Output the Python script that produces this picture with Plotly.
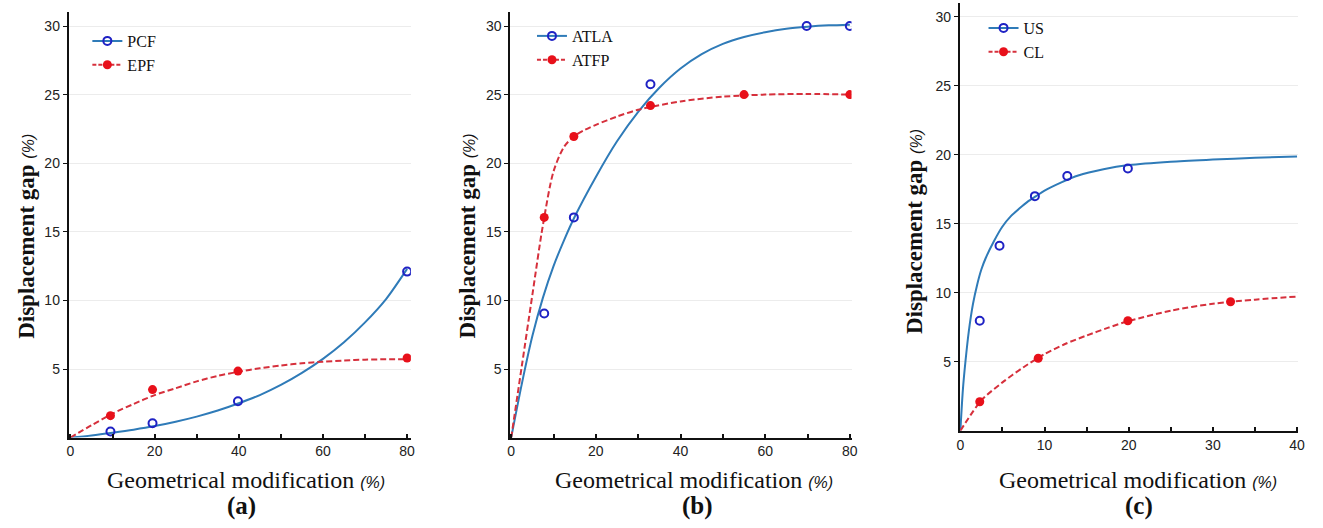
import plotly.graph_objects as go

W, H = 1323, 528

# ---------------- data ----------------
# Panel (a)
a_pts_x = [9.5, 19.5, 39.8, 80]
pcf_y = [0.45, 1.05, 2.65, 12.1]
epf_y = [1.6, 3.5, 4.85, 5.8]
a_fit_x = [0, 5, 10, 15, 20, 25, 30, 35, 40, 45, 50, 55, 60, 65, 70, 75, 80]
pcf_fit = [0, 0.16, 0.36, 0.58, 0.84, 1.16, 1.53, 1.97, 2.5, 3.1, 3.84, 4.72, 5.74, 6.95, 8.4, 10.1, 12.3]
epf_fit = [0, 0.9, 1.75, 2.45, 3.1, 3.6, 4.1, 4.5, 4.8, 5.05, 5.25, 5.42, 5.53, 5.62, 5.68, 5.71, 5.72]

# Panel (b)
atla_x = [7.8, 14.8, 32.9, 69.8, 80]
atla_y = [9.05, 16.05, 25.75, 30.0, 30.0]
atfp_x = [7.8, 14.8, 32.9, 55, 80]
atfp_y = [16.05, 21.95, 24.2, 25.0, 25.0]
atla_fit_x = [0, 2.5, 5, 7.5, 10, 12.5, 15, 20, 25, 30, 35, 40, 45, 50, 55, 60, 65, 70, 75, 80]
atla_fit = [0, 3.9, 7.4, 10.2, 12.5, 14.4, 16.1, 19.0, 21.6, 23.75, 25.5, 26.9, 27.95, 28.7, 29.2, 29.55, 29.8, 29.95, 30.05, 30.1]
atfp_fit_x = [0, 2.5, 5, 7.5, 10, 12.5, 15, 17.5, 20, 25, 30, 40, 50, 60, 70, 80]
atfp_fit = [0, 5.2, 10.4, 15.5, 19.4, 21.2, 22.0, 22.45, 22.8, 23.4, 23.9, 24.5, 24.85, 25.0, 25.05, 25.0]

# Panel (c)
us_x = [2.3, 4.65, 8.85, 12.7, 19.9]
us_y = [7.97, 13.4, 17.0, 18.46, 19.0]
cl_x = [2.3, 9.25, 19.9, 32.1]
cl_y = [2.1, 5.25, 7.97, 9.35]
us_fit_x = [0, 0.3, 0.6, 1, 1.5, 2, 2.5, 3, 4, 5, 6, 7, 8, 9, 10, 12, 14, 17, 20, 25, 30, 35, 40]
us_fit = [0, 3, 5, 7.2, 9.2, 10.6, 11.7, 12.5, 13.75, 14.8, 15.55, 16.1, 16.6, 17.0, 17.4, 18.0, 18.5, 18.95, 19.25, 19.5, 19.65, 19.78, 19.88]
cl_fit_x = [0, 2.5, 5, 7.5, 10, 12.5, 15, 17.5, 20, 25, 30, 35, 40]
cl_fit = [0, 2.2, 3.5, 4.6, 5.55, 6.3, 6.9, 7.45, 7.95, 8.7, 9.2, 9.5, 9.72]

y_ticks = [5, 10, 15, 20, 25, 30]
ab_xticks = [0, 10, 20, 30, 40, 50, 60, 70, 80]
ab_xtext = ["0", "", "20", "", "40", "", "60", "", "80"]
c_xticks = [0, 5, 10, 15, 20, 25, 30, 35, 40]
c_xtext = ["0", "", "10", "", "20", "", "30", "", "40"]

legend_names = [("PCF", "EPF"), ("ATLA", "ATFP"), ("US", "CL")]
panel_labels = ["(a)", "(b)", "(c)"]

# ---------------- styles ----------------
BLUE_LINE = "#2f7bb8"
BLUE_MK = "#1f22c4"
RED_LINE = "#d6303c"
RED_MK = "#e8101a"
SERIF = "Liberation Serif, Times New Roman, serif"
SANS = "Liberation Sans, Arial, sans-serif"

fig = go.Figure()

panels = [
    dict(fx=a_fit_x, f1=pcf_fit, fx2=a_fit_x, f2=epf_fit, px1=a_pts_x, p1=pcf_y, px2=a_pts_x, p2=epf_y),
    dict(fx=atla_fit_x, f1=atla_fit, fx2=atfp_fit_x, f2=atfp_fit, px1=atla_x, p1=atla_y, px2=atfp_x, p2=atfp_y),
    dict(fx=us_fit_x, f1=us_fit, fx2=cl_fit_x, f2=cl_fit, px1=us_x, p1=us_y, px2=cl_x, p2=cl_y),
]
legend_ids = ["legend", "legend2", "legend3"]

for i, p in enumerate(panels):
    xa = "x" if i == 0 else f"x{i+1}"
    ya = "y" if i == 0 else f"y{i+1}"
    fig.add_trace(go.Scatter(x=p["fx"], y=p["f1"], mode="lines", line=dict(color=BLUE_LINE, width=2, shape="spline", smoothing=0.8),
                             xaxis=xa, yaxis=ya, showlegend=False, hoverinfo="skip"))
    fig.add_trace(go.Scatter(x=p["fx2"], y=p["f2"], mode="lines", line=dict(color=RED_LINE, width=2, dash="6px,3px", shape="spline", smoothing=0.8),
                             xaxis=xa, yaxis=ya, showlegend=False, hoverinfo="skip"))
    fig.add_trace(go.Scatter(x=p["px1"], y=p["p1"], mode="markers",
                             marker=dict(symbol="circle-open", size=8, color=BLUE_MK, line=dict(width=2, color=BLUE_MK)),
                             xaxis=xa, yaxis=ya, showlegend=False))
    fig.add_trace(go.Scatter(x=p["px2"], y=p["p2"], mode="markers",
                             marker=dict(symbol="circle", size=9, color=RED_MK),
                             xaxis=xa, yaxis=ya, showlegend=False))
    n1, n2 = legend_names[i]
    fig.add_trace(go.Scatter(x=[None], y=[None], mode="lines+markers", name=n1,
                             line=dict(color=BLUE_LINE, width=2),
                             marker=dict(symbol="circle-open", size=8, color=BLUE_MK, line=dict(width=2, color=BLUE_MK)),
                             xaxis=xa, yaxis=ya, legend=legend_ids[i]))
    fig.add_trace(go.Scatter(x=[None], y=[None], mode="lines+markers", name=n2,
                             line=dict(color=RED_LINE, width=2, dash="4px,2px"),
                             marker=dict(symbol="circle", size=9, color=RED_MK),
                             xaxis=xa, yaxis=ya, legend=legend_ids[i]))

def px_x(v):
    return v / W

def px_y(v):
    return 1 - v / H

xdomains = [(66, 411), (511, 855), (964, 1305)]
xranges = [(-0.47, 80.9), (-0.25, 80.4), (-0.08, 40.13)]
ydomains = [(437.6, 12.3), (437.6, 12.3), (430.7, 3.0)]

axis_common = dict(showline=True, linecolor="#111", zeroline=False, mirror=False,
                   tickfont=dict(family=SANS, size=14, color="#222"), tickcolor="#111")

layout_axes = {}
for i in range(3):
    xs = "xaxis" if i == 0 else f"xaxis{i+1}"
    ys = "yaxis" if i == 0 else f"yaxis{i+1}"
    anchor_y = "y" if i == 0 else f"y{i+1}"
    anchor_x = "x" if i == 0 else f"x{i+1}"
    tv, tt = (ab_xticks, ab_xtext) if i < 2 else (c_xticks, c_xtext)
    layout_axes[xs] = dict(axis_common, domain=[px_x(xdomains[i][0]), px_x(xdomains[i][1])],
                           range=list(xranges[i]), anchor=anchor_y, linewidth=2,
                           ticks="inside", ticklen=4, tickwidth=1.5, tickvals=tv, ticktext=tt,
                           showgrid=False)
    layout_axes[ys] = dict(axis_common, domain=[px_y(ydomains[i][0]), px_y(ydomains[i][1])],
                           range=[0, 31], anchor=anchor_x, linewidth=1.5,
                           ticks="outside", ticklen=4, tickwidth=1, tickvals=y_ticks,
                           showgrid=True, gridcolor="#ececec", gridwidth=1)

legend_common = dict(xanchor="left", yanchor="top", bgcolor="rgba(0,0,0,0)",
                     font=dict(family=SERIF, size=16, color="#111"), itemwidth=30,
                     tracegroupgap=0)

annotations = []
ytitle = ("<b>Displacement gap</b> <span style='font-family:Liberation Sans;font-size:16px;"
          "font-style:italic;font-weight:normal'>(%)</span>")
xtitle = ("Geometrical modification <span style='font-family:Liberation Sans;font-size:16px;"
          "font-style:italic'>(%)</span>")
ytitle_pos = [(23, 236), (468, 236), (918, 232)]
xtitle_pos = [(245, 480), (696, 480), (1144, 480)]
label_pos = [(240, 506), (700, 506), (1145, 506)]
for i in range(3):
    annotations.append(dict(text=ytitle, x=px_x(ytitle_pos[i][0]), y=px_y(ytitle_pos[i][1]),
                            xref="paper", yref="paper", showarrow=False, textangle=-90,
                            font=dict(family=SERIF, size=23, color="#111"), xanchor="center", yanchor="middle"))
    annotations.append(dict(text=xtitle, x=px_x(xtitle_pos[i][0]), y=px_y(xtitle_pos[i][1]),
                            xref="paper", yref="paper", showarrow=False,
                            font=dict(family=SERIF, size=24, color="#111"), xanchor="center", yanchor="middle"))
    annotations.append(dict(text=f"<b>{panel_labels[i]}</b>", x=px_x(label_pos[i][0]), y=px_y(label_pos[i][1]),
                            xref="paper", yref="paper", showarrow=False,
                            font=dict(family=SERIF, size=25, color="#111"), xanchor="center", yanchor="middle"))

fig.update_layout(
    width=W, height=H,
    margin=dict(l=0, r=0, t=0, b=0),
    paper_bgcolor="white", plot_bgcolor="white",
    annotations=annotations,
    legend=dict(legend_common, x=px_x(85), y=px_y(24)),
    legend2=dict(legend_common, x=px_x(533), y=px_y(19)),
    legend3=dict(legend_common, x=px_x(988), y=px_y(11)),
    **layout_axes,
)

fig.write_html("out.html",
               config={"displayModeBar": False},
               post_script="document.body.style.margin='0';document.body.style.padding='0';")
